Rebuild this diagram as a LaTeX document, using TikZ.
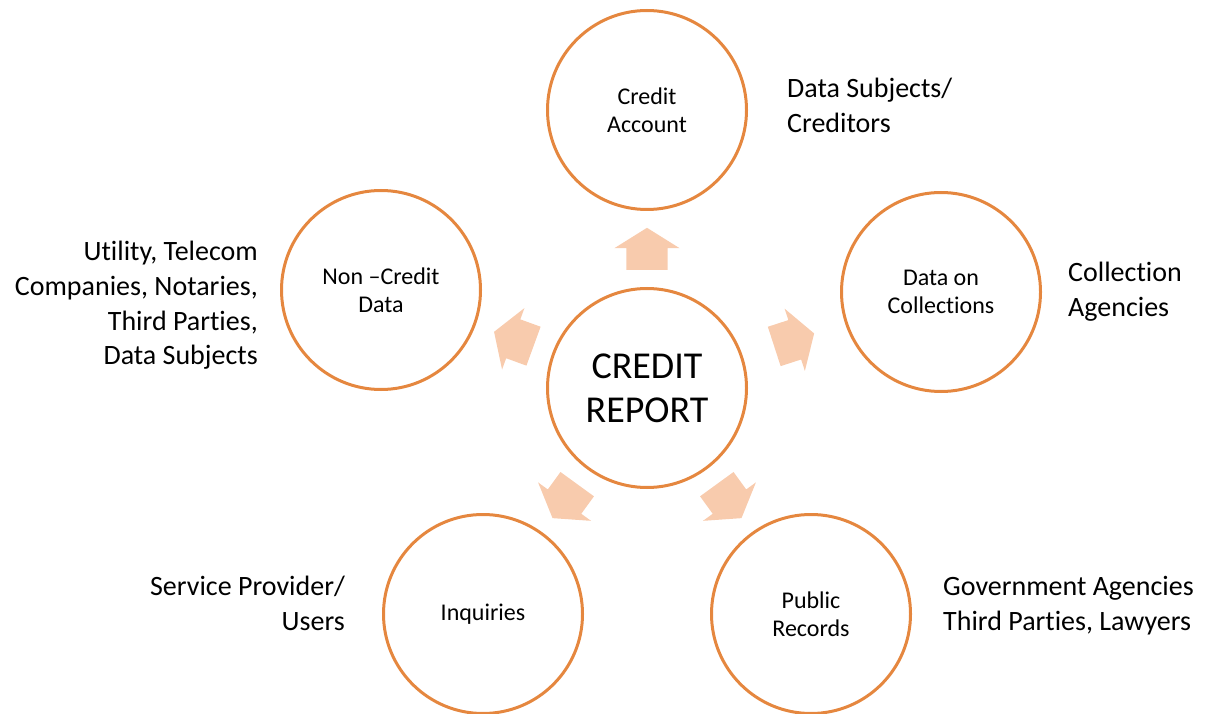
\documentclass[tikz,border=0pt]{standalone}
\usepackage{fontspec}
\setmainfont{Carlito}[Ligatures=NoCommon]
\usetikzlibrary{shapes.arrows,calc}
\definecolor{ringorange}{HTML}{E5873F}
\definecolor{arrowpeach}{HTML}{F8CBAD}

\begin{document}
\begin{tikzpicture}[x=1pt,y=1pt,
  ring/.style={circle,draw=ringorange,line width=3pt,minimum size=199pt,inner sep=0pt,align=center,font=\fontsize{24}{28}\selectfont},
  fatarrow/.style={single arrow,fill=arrowpeach,draw=none,minimum height=42pt,single arrow head extend=12pt,single arrow tip angle=116,inner xsep=0pt,inner ysep=20.5pt,anchor=tail},
  source/.style={inner sep=0pt,font=\fontsize{28}{35}\selectfont}]
  \useasboundingbox (0,0) rectangle (1207,713);

  % circles
  \node[ring,font=\fontsize{38}{44}\selectfont] (rep) at (647,325) {CREDIT\\REPORT};
  \node[ring] (acc) at (647,603) {Credit\\Account};
  \node[ring] (coll) at (941,421) {Data on\\Collections};
  \node[ring] (ncd) at (381,423) {Non –Credit\\Data};
  \node[ring] (inq) at (483,99) {Inquiries};
  \node[ring] (pub) at (811,99) {Public\\Records};

  % block arrows between the circles
  \foreach \t/\a in {acc/90,coll/18,ncd/160,inq/-126,pub/-54}
    \node[fatarrow,rotate=\a] (arr-\t) at ($(rep)!0.5!(\t)!21pt!(rep)$) {};

  % sources of the data (base = last line)
  \node[source,anchor=base west,align=left] (accsrc) at (787,580) {Data Subjects/\\Creditors};
  \node[source,anchor=base west,align=left] (collsrc) at (1068,396) {Collection\\Agencies};
  \node[source,anchor=base east,align=right] (ncdsrc) at (258,348) {Utility, Telecom\\Companies, Notaries,\\Third Parties,\\Data Subjects};
  \node[source,anchor=base east,align=right] (inqsrc) at (345,83) {Service Provider/\\Users};
  \node[source,anchor=base west,align=left] (pubsrc) at (943,83) {Government Agencies\\Third Parties, Lawyers};
\end{tikzpicture}
\end{document}
